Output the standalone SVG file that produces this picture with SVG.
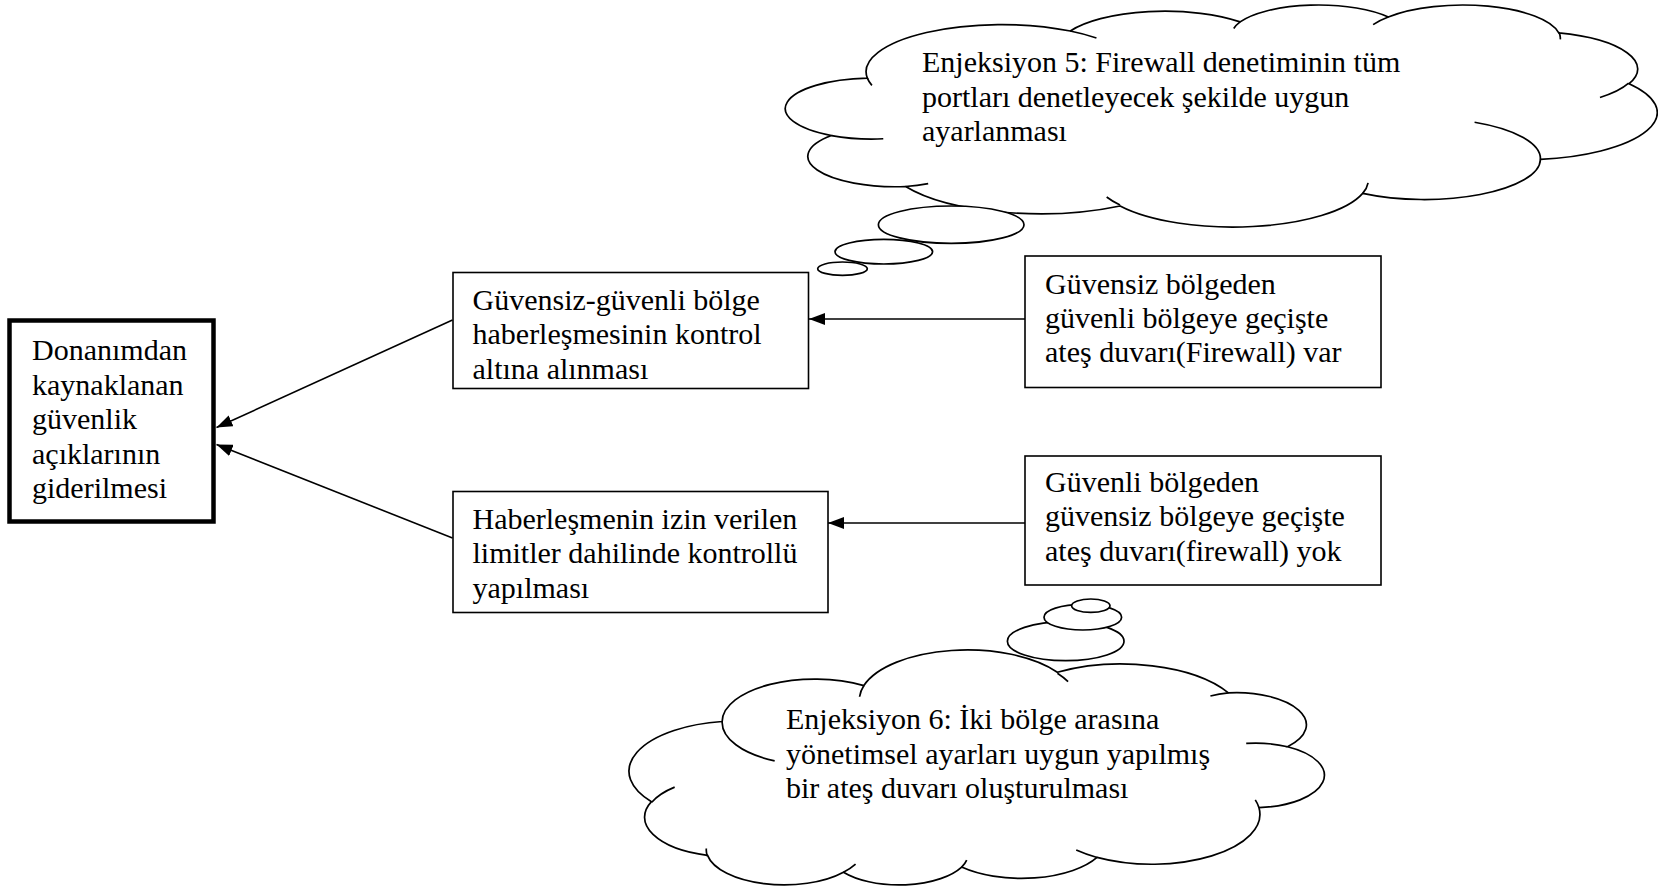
<svg xmlns="http://www.w3.org/2000/svg" width="1658" height="888" viewBox="0 0 1658 888">
<defs>
<style>
text{font-family:"Liberation Serif","Times New Roman",serif;font-size:30px;fill:#000}
.box{fill:#fff;stroke:#000;stroke-width:1.6}
.main{fill:#fff;stroke:#000;stroke-width:4.5}
.cloud{fill:#fff;stroke:#000;stroke-width:1.7;vector-effect:non-scaling-stroke}
.hook{fill:none;stroke:#000;stroke-width:1.7;vector-effect:non-scaling-stroke}
.bubble{fill:#fff;stroke:#000;stroke-width:1.7}
.edge{fill:none;stroke:#000;stroke-width:1.6;marker-end:url(#arr)}
</style>
<marker id="arr" viewBox="0 0 16 12" refX="16" refY="6" markerWidth="16" markerHeight="12" orient="auto" markerUnits="userSpaceOnUse">
<path d="M0,0 L16,6 L0,12 z" fill="#000"/>
</marker>
</defs>
<rect width="1658" height="888" fill="#fff"/>

<!-- thought cloud, upper right (cloud outline in 43200 unit space) -->
<g id="cloud-firewall">
<path class="cloud" transform="matrix(0.020088 0 0 0.005137 789 4.3)" d="M3900 14370 A6753 9190 0 0 1 14005 5202 A5333 7267 0 0 1 22457 3429 A4365 5945 0 0 1 29834 2476 A4857 6595 0 0 1 38319 5572 A5333 7273 0 0 1 41819 15455 A6775 9220 0 0 1 37406 30201 A5785 7867 0 0 1 28558 36811 A6752 9215 0 0 1 16483 39264 A7720 10543 0 0 1 5805 35470 A4360 5918 0 0 1 2113 25549 A4345 5945 0 0 1 3900 14370 Z"/>
<path class="hook" transform="matrix(0.020088 0 0 0.005137 789 4.3)" d="M4693 26177 A4345 5945 0 0 1 2113 25549 M6928 34899 A4360 5918 0 0 1 5805 35470 M16478 39090 A6752 9215 0 0 1 15814 37521 M28827 34751 A6752 9215 0 0 1 28558 36811 M34129 22954 A5785 7867 0 0 1 37406 30201 M41798 15354 A5333 7273 0 0 1 40371 18131 M38324 5426 A4857 6595 0 0 1 38395 6835 M29078 3952 A4857 6595 0 0 1 29834 2476 M22141 4720 A4365 5945 0 0 1 22457 3429 M14000 5192 A6753 9190 0 0 1 15305 6551 M4127 15789 A6753 9190 0 0 1 3900 14370"/>
<ellipse class="bubble" cx="951.2" cy="224.7" rx="72.8" ry="18.7"/>
<ellipse class="bubble" cx="883.8" cy="251.7" rx="48.8" ry="12.3"/>
<ellipse class="bubble" cx="842.5" cy="268.7" rx="24.8" ry="6.7"/>
<text x="922" y="72">Enjeksiyon 5: Firewall denetiminin tüm</text>
<text x="922" y="106.5">portları denetleyecek şekilde uygun</text>
<text x="922" y="141">ayarlanması</text>
</g>

<!-- thought cloud, lower middle (same outline, turned 180 degrees) -->
<g id="cloud-zone">
<path class="cloud" transform="matrix(-0.016020 0 0 -0.005437 1321.4 885.7)" d="M3900 14370 A6753 9190 0 0 1 14005 5202 A5333 7267 0 0 1 22457 3429 A4365 5945 0 0 1 29834 2476 A4857 6595 0 0 1 38319 5572 A5333 7273 0 0 1 41819 15455 A6775 9220 0 0 1 37406 30201 A5785 7867 0 0 1 28558 36811 A6752 9215 0 0 1 16483 39264 A7720 10543 0 0 1 5805 35470 A4360 5918 0 0 1 2113 25549 A4345 5945 0 0 1 3900 14370 Z"/>
<path class="hook" transform="matrix(-0.016020 0 0 -0.005437 1321.4 885.7)" d="M4693 26177 A4345 5945 0 0 1 2113 25549 M6928 34899 A4360 5918 0 0 1 5805 35470 M16478 39090 A6752 9215 0 0 1 15814 37521 M28827 34751 A6752 9215 0 0 1 28558 36811 M34129 22954 A5785 7867 0 0 1 37406 30201 M41798 15354 A5333 7273 0 0 1 40371 18131 M38324 5426 A4857 6595 0 0 1 38395 6835 M29078 3952 A4857 6595 0 0 1 29834 2476 M22141 4720 A4365 5945 0 0 1 22457 3429 M14000 5192 A6753 9190 0 0 1 15305 6551 M4127 15789 A6753 9190 0 0 1 3900 14370"/>
<ellipse class="bubble" cx="1065.7" cy="641.2" rx="58.3" ry="19.5"/>
<ellipse class="bubble" cx="1082.8" cy="617.2" rx="38.8" ry="12.8"/>
<ellipse class="bubble" cx="1090.8" cy="605.7" rx="19.2" ry="6.7"/>
<text x="786" y="729">Enjeksiyon 6: İki bölge arasına</text>
<text x="786" y="763.5">yönetimsel ayarları uygun yapılmış</text>
<text x="786" y="798">bir ateş duvarı oluşturulması</text>
</g>

<!-- goal box -->
<g id="node-goal">
<rect class="main" x="9.5" y="320.5" width="204" height="201"/>
<text x="32" y="360">Donanımdan</text>
<text x="32" y="394.5">kaynaklanan</text>
<text x="32" y="429">güvenlik</text>
<text x="32" y="463.5">açıklarının</text>
<text x="32" y="498">giderilmesi</text>
</g>

<g id="node-control">
<rect class="box" x="453" y="272.5" width="355.5" height="116"/>
<text x="472.5" y="310">Güvensiz-güvenli bölge</text>
<text x="472.5" y="344">haberleşmesinin kontrol</text>
<text x="472.5" y="378.5">altına alınması</text>
</g>

<g id="node-limits">
<rect class="box" x="453" y="491.5" width="375" height="121"/>
<text x="472.5" y="528.5">Haberleşmenin izin verilen</text>
<text x="472.5" y="563">limitler dahilinde kontrollü</text>
<text x="472.5" y="597.5">yapılması</text>
</g>

<g id="node-fw-present">
<rect class="box" x="1025" y="256" width="356" height="131.5"/>
<text x="1045" y="293.5">Güvensiz bölgeden</text>
<text x="1045" y="328">güvenli bölgeye geçişte</text>
<text x="1045" y="362">ateş duvarı(Firewall) var</text>
</g>

<g id="node-fw-missing">
<rect class="box" x="1025" y="456" width="356" height="129"/>
<text x="1045" y="492">Güvenli bölgeden</text>
<text x="1045" y="526">güvensiz bölgeye geçişte</text>
<text x="1045" y="560.5">ateş duvarı(firewall) yok</text>
</g>

<g id="connectors">
<line class="edge" x1="1025" y1="319" x2="809" y2="319"/>
<line class="edge" x1="1025" y1="523" x2="828" y2="523"/>
<line class="edge" x1="452.5" y1="320" x2="216.5" y2="427.5"/>
<line class="edge" x1="452.5" y1="538" x2="216.5" y2="444.5"/>
</g>
</svg>
